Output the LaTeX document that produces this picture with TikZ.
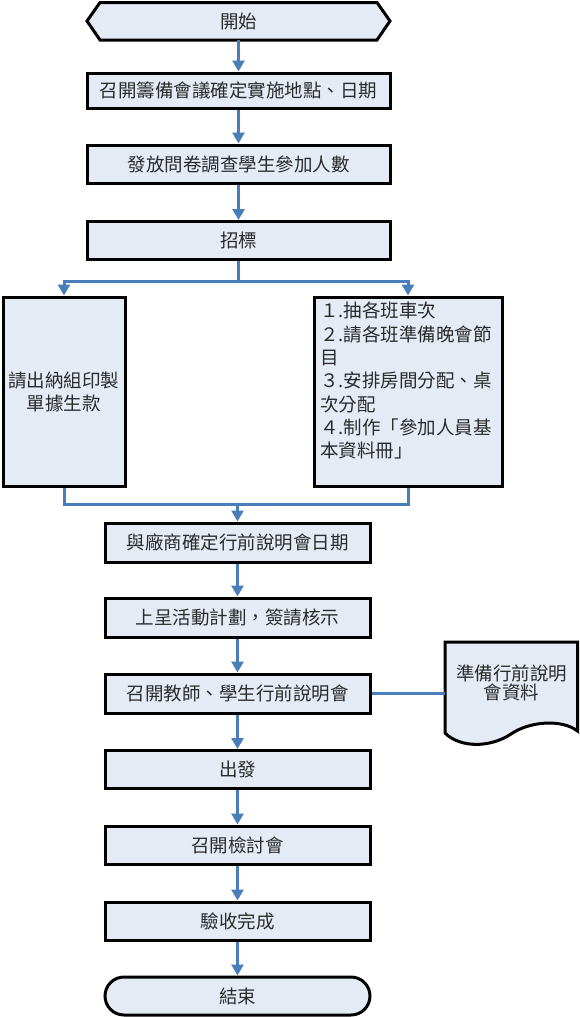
\documentclass[tikz,border=0pt]{standalone}
\usepackage{fontspec}
\newfontfamily\cjk{Noto Sans CJK TC}
\usetikzlibrary{arrows.meta,shapes.misc,calc}
\definecolor{boxfill}{HTML}{E5EBF5}
\definecolor{flow}{HTML}{4A7EBB}
\definecolor{ink}{HTML}{2A2A2A}
\begin{document}
\begin{tikzpicture}[x=1pt,y=-1pt,
  every node/.style={font=\cjk\fontsize{18.5}{23}\selectfont, text=ink},
  box/.style={draw=black, line width=3pt, fill=boxfill, inner sep=0pt},
  upbox/.style={box, minimum width=303pt},
  lowbox/.style={box, minimum width=265pt, minimum height=38pt},
  flowline/.style={draw=flow, line width=3pt},
  flowarrow/.style={flowline, -{Triangle[length=11pt,width=12pt]}},
]
\useasboundingbox (0,0) rectangle (580,1017);

% start hexagon
\draw[line width=3pt, fill=boxfill, line join=miter]
  (87,21) -- (100,2.5) -- (377,2.5) -- (390,21) -- (377,40) -- (100,40) -- cycle;
\node[minimum width=303pt, minimum height=38pt, inner sep=0pt] (start) at (238.5,21) {開始};

\node[upbox, minimum height=35pt] (b1) at (238.5,90.5) {召開籌備會議確定實施地點、日期};
\node[upbox, minimum height=38pt] (b2) at (238.5,164) {發放問卷調查學生參加人數};
\node[upbox, minimum height=38pt] (tender) at (238.5,240.5) {招標};

\node[box, minimum width=122pt, minimum height=189pt, align=center] (lbox) at (64,391.5) {請出納組印製\\單據生款};
\node[box, minimum width=188pt, minimum height=189pt] (rbox) at (408,391.5) {};
\node[anchor=north west, inner sep=0pt, align=left, font=\cjk\fontsize{18.5}{23.3}\selectfont] (rtext) at (320,302)
  {１.抽各班車次\\２.請各班準備晚會節\\目\\３.安排房間分配、桌\\次分配\\４.制作「參加人員基\\本資料冊」};

\node[lowbox, minimum height=39pt] (date) at (237.5,542.5) {與廠商確定行前說明會日期};
\node[lowbox, minimum height=39pt] (plan) at (237.5,617.5) {上呈活動計劃，簽請核示};
\node[lowbox, minimum height=39pt] (meet) at (237.5,693.5) {召開教師、學生行前說明會};
\node[lowbox, minimum height=38pt] (go) at (237.5,769.5) {出發};
\node[lowbox] (review) at (237.5,845) {召開檢討會};
\node[lowbox] (accept) at (237.5,921) {驗收完成};
\node[box, rounded rectangle, minimum width=265pt, minimum height=38pt] (finish) at (237.5,996) {結束};

% document shape
\draw[line width=3pt, fill=boxfill, line join=miter]
  (445,642) -- (577.5,642) -- (577.5,731)
  .. controls (562,719) and (530,721) .. (511,734)
  .. controls (490,748) and (460,748) .. (445,733) -- cycle;
\node[minimum width=133pt, inner sep=0pt, align=center, font=\cjk\fontsize{18.5}{19}\selectfont] (doc) at (511.5,683) {準備行前說明\\會資料};

% connectors
\draw[flowarrow] (start.south) -- (b1.north);
\draw[flowarrow] (b1.south) -- (b2.north);
\draw[flowarrow] (b2.south) -- (tender.north);
\coordinate (split) at (238.5,281.5);
\draw[flowline] (tender.south) -- (split);
\draw[flowarrow] (split) -| (lbox.north);
\draw[flowarrow] (split) -| (rbox.north);
\coordinate (merge) at (237.5,504);
\draw[flowline] (lbox.south) |- (merge);
\draw[flowline] (rbox.south) |- (merge);
\draw[flowarrow] (merge) -- (date.north);
\draw[flowarrow] (date.south) -- (plan.north);
\draw[flowarrow] (plan.south) -- (meet.north);
\draw[flowarrow] (meet.south) -- (go.north);
\draw[flowarrow] (go.south) -- (review.north);
\draw[flowarrow] (review.south) -- (accept.north);
\draw[flowarrow] (accept.south) -- (finish.north);
\draw[flowline] (meet.east) -- (meet.east -| doc.west);
\end{tikzpicture}
\end{document}
